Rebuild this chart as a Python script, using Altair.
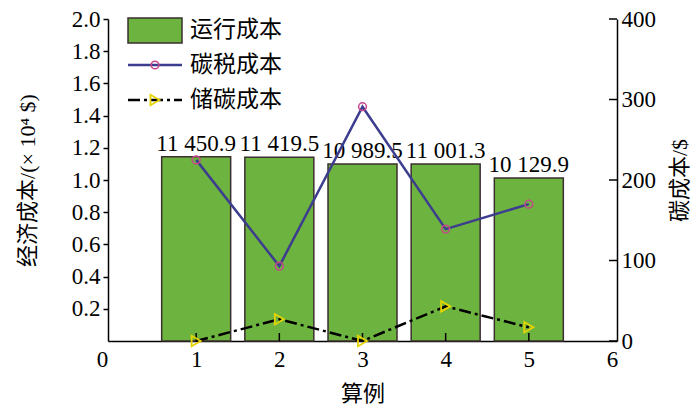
import altair as alt
import pandas as pd

# ---- data ----
cases = [1, 2, 3, 4, 5]
operating_cost = [11450.9, 11419.5, 10989.5, 11001.3, 10129.9]   # $
operating_labels = ["11 450.9", "11 419.5", "10 989.5", "11 001.3", "10 129.9"]
carbon_tax_cost = [225, 93, 291, 139, 170]        # $
carbon_storage_cost = [0, 27, 0, 43, 17]          # $
legend_labels = ["运行成本", "碳税成本", "储碳成本"]
x_ticks = [0, 1, 2, 3, 4, 5, 6]
left_ticks = [0.2, 0.4, 0.6, 0.8, 1.0, 1.2, 1.4, 1.6, 1.8, 2.0]
right_ticks = [0, 100, 200, 300, 400]

df = pd.DataFrame({
    "case": cases,
    "op": operating_cost,
    "label": operating_labels,
    "tax": carbon_tax_cost,
    "store": carbon_storage_cost,
})
df_rt = pd.DataFrame({"v": right_ticks})
df_xt = pd.DataFrame({"c": cases})
df_leg = pd.DataFrame({"t": legend_labels})

W, H = 509, 322
FONT = "Liberation Serif, Noto Sans CJK SC"
FS = 23
TFS = 22
GREEN = "#6db33f"
EDGE = "#3b2f2f"
BLUE = "#3d3d8f"
PINK = "#c8468c"
YELLOW = "#e6d400"

xscale = alt.Scale(domain=[0, 6], nice=False)
x_axis = alt.Axis(values=x_ticks, ticks=False, grid=False, title="算例",
                  labelFont=FONT, labelFontSize=FS, titleFont=FONT, titleFontSize=TFS,
                  titleFontWeight="normal", labelPadding=7, titlePadding=12,
                  labelColor="black", titleColor="black", domainColor="black",
                  domainWidth=1.5, format="d", labelOverlap=False,
                  labelOffset={"condition": {"test": "datum.value === 0", "value": -11}, "value": 0})

yl_scale = alt.Scale(domain=[0, 2], nice=False)
yl_axis = alt.Axis(values=left_ticks, format=".1f", grid=False, tickSize=5, tickWidth=1.5,
                   tickColor="black", domainColor="black", domainWidth=1.5,
                   labelFont=FONT, labelFontSize=FS, labelColor="black", labelPadding=3,
                   labelOverlap=False, tickCount=10,
                   title="经济成本/(× 10⁴ $)", titleFont=FONT, titleFontSize=TFS,
                   titleFontWeight="normal", titleColor="black", titlePadding=32)

yr_scale = alt.Scale(domain=[0, 400], nice=False)
yr_axis = alt.Axis(values=right_ticks, orient="right", grid=False, ticks=False,
                   domainColor="black", domainWidth=1.5, labelOverlap=False,
                   labelFont=FONT, labelFontSize=FS, labelColor="black", labelPadding=4,
                   title="碳成本/$", titleFont=FONT, titleFontSize=TFS, titleAngle=270,
                   titleBaseline="top",
                   titleFontWeight="normal", titleColor="black", titlePadding=14)

base = alt.Chart(df)

bars = base.transform_calculate(opw="datum.op / 10000").mark_bar(
    size=69, color=GREEN, stroke=EDGE, strokeWidth=1.5
).encode(
    x=alt.X("case:Q", scale=xscale, axis=x_axis),
    y=alt.Y("opw:Q", scale=yl_scale, axis=yl_axis),
)

bar_text = base.transform_calculate(opw="datum.op / 10000").mark_text(
    font=FONT, fontSize=FS, baseline="alphabetic", dy=-6, color="black"
).encode(
    x=alt.X("case:Q", scale=xscale, axis=x_axis),
    y=alt.Y("opw:Q", scale=yl_scale, axis=yl_axis),
    text="label:N",
)

x_tick_marks = alt.Chart(df_xt).mark_rule(color="black", strokeWidth=1.5).encode(
    x=alt.X("c:Q", scale=xscale, axis=x_axis),
    y=alt.value(H),
    y2=alt.value(H - 8),
)


def leg(name):
    return alt.Chart(df_leg).transform_filter(f"datum.t === '{name}'")


ROWS = [11, 46, 81]
LFS = 23
leg_rect = leg(legend_labels[0]).mark_rect(
    color=GREEN, stroke=EDGE, strokeWidth=1.5
).encode(x=alt.value(20), x2=alt.value(74), y=alt.value(-1), y2=alt.value(24))
leg_texts = [
    leg(name).mark_text(font=FONT, fontSize=LFS, align="left", baseline="middle",
                        color="black").encode(x=alt.value(82), y=alt.value(ROWS[i]), text="t:N")
    for i, name in enumerate(legend_labels)
]
leg_line1 = leg(legend_labels[1]).mark_rule(color=BLUE, strokeWidth=2.5).encode(
    x=alt.value(20), x2=alt.value(74), y=alt.value(ROWS[1]))
leg_pt1 = leg(legend_labels[1]).mark_point(
    shape="circle", size=60, filled=False, color=PINK, strokeWidth=1.5, opacity=1
).encode(x=alt.value(47), y=alt.value(ROWS[1]))
leg_line2 = leg(legend_labels[2]).mark_rule(
    color="black", strokeWidth=2.5, strokeDash=[12, 4, 3, 4]
).encode(x=alt.value(20), x2=alt.value(74), y=alt.value(ROWS[2]))
leg_pt2 = leg(legend_labels[2]).mark_point(
    shape="triangle-right", size=110, filled=False, color=YELLOW, strokeWidth=1.8, opacity=1
).encode(x=alt.value(47), y=alt.value(ROWS[2]))

left = alt.layer(bars, bar_text, x_tick_marks, leg_rect, *leg_texts,
                 leg_line1, leg_pt1, leg_line2, leg_pt2)

tax_line = base.mark_line(color=BLUE, strokeWidth=2.5).encode(
    x=alt.X("case:Q", scale=xscale, axis=x_axis),
    y=alt.Y("tax:Q", scale=yr_scale, axis=yr_axis),
)
tax_pts = base.mark_point(shape="circle", size=60, filled=False, color=PINK,
                          strokeWidth=1.5, opacity=1).encode(
    x=alt.X("case:Q", scale=xscale, axis=x_axis),
    y=alt.Y("tax:Q", scale=yr_scale, axis=yr_axis),
)
store_line = base.mark_line(color="black", strokeWidth=2.5, strokeDash=[12, 4, 3, 4]).encode(
    x=alt.X("case:Q", scale=xscale, axis=x_axis),
    y=alt.Y("store:Q", scale=yr_scale, axis=yr_axis),
)
store_pts = base.mark_point(shape="triangle-right", size=110, filled=False, color=YELLOW,
                            strokeWidth=1.8, opacity=1).encode(
    x=alt.X("case:Q", scale=xscale, axis=x_axis),
    y=alt.Y("store:Q", scale=yr_scale, axis=yr_axis),
)
r_ticks = alt.Chart(df_rt).mark_rule(color="black", strokeWidth=1.5).encode(
    y=alt.Y("v:Q", scale=yr_scale, axis=yr_axis),
    x=alt.value(W),
    x2=alt.value(W - 8),
)

right = alt.layer(tax_line, store_line, tax_pts, store_pts, r_ticks)

chart = alt.layer(left, right).resolve_scale(y="independent").properties(
    width=W, height=H,
    background="white",
    autosize=alt.AutoSizeParams(type="none"),
    padding={"left": 100, "top": 11, "right": 75, "bottom": 64},
).configure_view(stroke=None).configure_axis(labelOverlap=False)

chart.save("out.html", embed_options={"renderer": "svg", "actions": False})
